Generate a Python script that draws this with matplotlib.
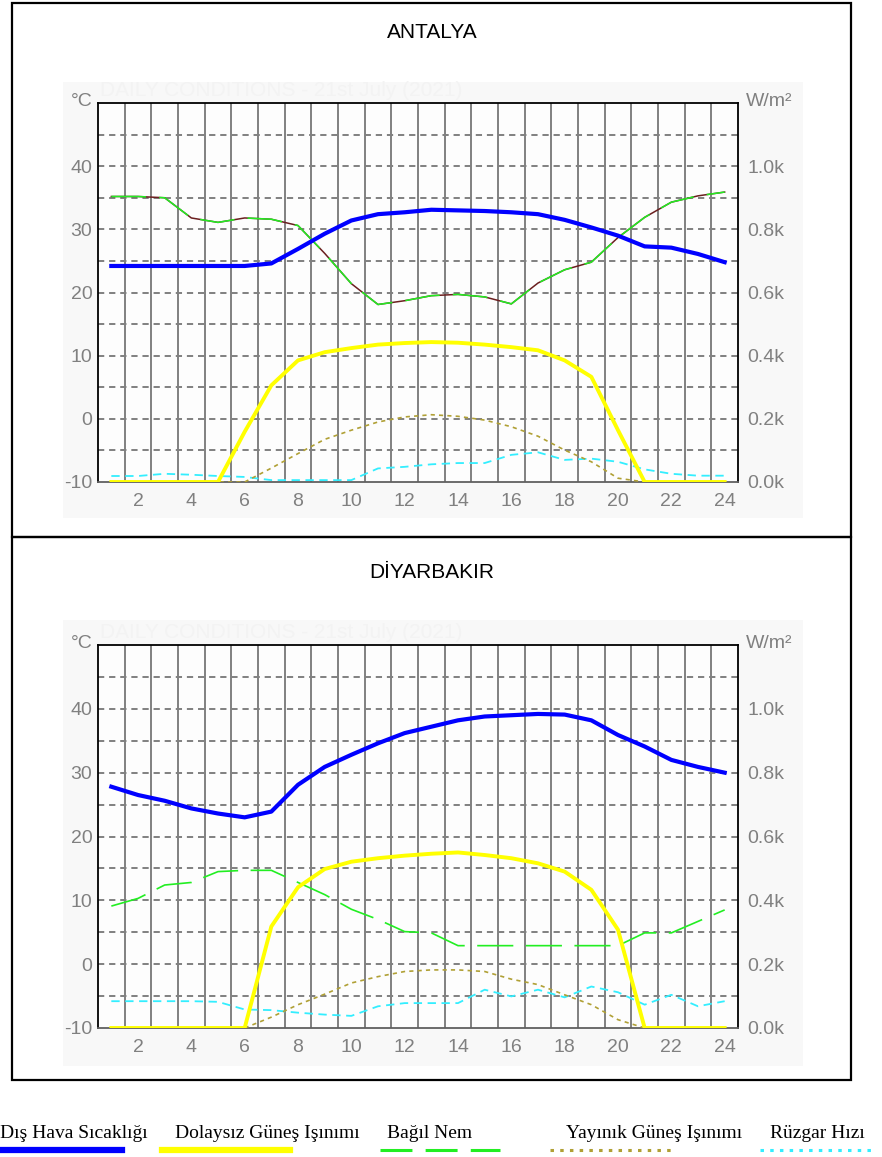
import numpy as np
import matplotlib.pyplot as plt
from matplotlib.patches import Rectangle
from matplotlib.lines import Line2D

plt.rcParams['lines.scale_dashes'] = False
plt.rcParams['axes.unicode_minus'] = False
plt.rcParams['font.family'] = ['Liberation Sans', 'DejaVu Sans']

# saat 1..24
hours = np.arange(1, 25)

# ANTALYA (sol eksen: °C ölçeği, sağ eksen: W/m²)
antalya_temp = [24.2, 24.2, 24.2, 24.2, 24.2, 24.2, 24.6, 26.9, 29.3, 31.4, 32.4, 32.7,
                33.1, 33.0, 32.9, 32.7, 32.4, 31.5, 30.3, 29.0, 27.3, 27.1, 26.1, 24.8]
antalya_rh = [35.2, 35.2, 35.0, 31.8, 31.1, 31.8, 31.6, 30.6, 26.2, 21.4, 18.1, 18.7,
              19.5, 19.7, 19.3, 18.2, 21.5, 23.6, 24.8, 28.7, 31.9, 34.3, 35.3, 35.9]
antalya_wind = [-9.05, -9.05, -8.7, -8.85, -9.05, -9.2, -9.7, -9.7, -9.7, -9.7, -7.85, -7.6,
                -7.2, -7.0, -7.0, -5.7, -5.3, -6.5, -6.3, -6.8, -8.0, -8.7, -9.0, -9.0]
antalya_direct = [0, 0, 0, 0, 0, 159, 306, 385, 411, 424, 435, 440,
                  443, 441, 435, 427, 417, 385, 333, 164, 0, 0, 0, 0]
antalya_diffuse = [0, 0, 0, 0, 0, 0, 44, 90, 135, 164, 190, 206,
                   213, 208, 196, 175, 145, 101, 64, 12, 0, 0, 0, 0]

# DİYARBAKIR
diyarbakir_temp = [27.8, 26.5, 25.6, 24.4, 23.6, 23.0, 23.9, 28.1, 30.9, 32.8, 34.6, 36.2,
                   37.2, 38.2, 38.8, 39.0, 39.2, 39.1, 38.2, 35.9, 34.1, 32.0, 30.9, 30.0]
diyarbakir_rh = [9.1, 10.3, 12.4, 12.8, 14.5, 14.7, 14.7, 12.8, 10.9, 8.6, 7.0, 5.1,
                 4.9, 2.9, 2.9, 2.9, 2.9, 2.9, 2.9, 2.9, 4.9, 4.9, 6.7, 8.5]
diyarbakir_wind = [-5.8, -5.8, -5.8, -5.8, -5.9, -7.1, -7.2, -7.6, -7.9, -8.1, -6.6, -6.1,
                   -6.1, -6.1, -4.0, -5.05, -4.0, -5.2, -3.5, -4.4, -6.35, -4.8, -6.6, -5.8]
diyarbakir_direct = [0, 0, 0, 0, 0, 0, 318, 441, 498, 521, 532, 540,
                     546, 550, 542, 532, 516, 490, 433, 308, 0, 0, 0, 0]
diyarbakir_diffuse = [0, 0, 0, 0, 0, 0, 34, 73, 106, 141, 161, 177,
                      182, 182, 177, 153, 136, 104, 73, 26, 0, 0, 0, 0]

temp_ticks = [-10, 0, 10, 20, 30, 40]
rad_ticks = [0, 200, 400, 600, 800, 1000]
rad_labels = ['0.0k', '0.2k', '0.4k', '0.6k', '0.8k', '1.0k']
hour_ticks = list(range(2, 25, 2))

legend_names = ['Dış Hava Sıcaklığı', 'Dolaysız Güneş Işınımı', 'Bağıl Nem',
                'Yayınık Güneş Işınımı', 'Rüzgar Hızı']

W, H = 882, 1157
fig = plt.figure(figsize=(W / 100, H / 100), dpi=100)


def fx(x):
    return x / W


def fy(y):
    return 1 - y / H


C_TEMP = '#0000ff'
C_DIRECT = '#ffff00'
C_RH = '#22ee22'
C_DIFF = '#b0a035'
C_WIND = '#33eeff'
GRID = '#808080'
LABEL = '#808080'


def draw_panel(box_top, box_bot, bg_top, bg_bot, plot_top, plot_bot, title, title_y,
               temp, rh, wind, direct, diffuse, antalya_style):
    fig.add_artist(Rectangle((fx(12), fy(box_bot)), fx(851) - fx(12), fy(box_top) - fy(box_bot),
                             transform=fig.transFigure, fill=False, edgecolor='black', lw=1.6))
    fig.add_artist(Rectangle((fx(63), fy(bg_bot)), fx(803) - fx(63), fy(bg_top) - fy(bg_bot),
                             transform=fig.transFigure, facecolor='#f8f8f8', edgecolor='none',
                             zorder=-5))
    fig.text(fx(432), fy(title_y), title, ha='center', va='center', fontsize=15, color='black')
    fig.text(fx(100), fy(plot_top - 12), 'DAILY CONDITIONS - 21st July (2021)', fontsize=15,
             color='#f3f3f3', ha='left', va='center')

    ax = fig.add_axes([fx(98), fy(plot_bot), fx(738) - fx(98), fy(plot_top) - fy(plot_bot)])
    ax.set_facecolor('#fdfdfd')
    ax.set_xlim(0.5, 24.5)
    ax.set_ylim(-10, 50)

    for x in np.arange(1.5, 24, 1):
        ax.axvline(x, color=GRID, lw=1.4, zorder=1)
    for y in np.arange(-5, 50, 5):
        ax.axhline(y, color=GRID, lw=1.4, ls=(0, (4.5, 3.5)), zorder=1)

    ax.set_xticks(hour_ticks)
    ax.set_yticks(temp_ticks)
    ax.tick_params(length=0, labelsize=14, colors=LABEL, pad=8)
    ax.tick_params(axis='y', pad=4)
    for s in ['left', 'top', 'right']:
        ax.spines[s].set_color('black')
        ax.spines[s].set_linewidth(1.3)
    ax.spines['bottom'].set_color('#606060')
    ax.spines['bottom'].set_linewidth(1.3)

    if antalya_style:
        ax.plot(hours, rh, color='#6b1f1f', lw=1.1, zorder=3)
        ax.plot(hours, rh, color=C_RH, lw=1.1, dashes=(25, 9.5), zorder=3)
    else:
        ax.plot(hours, rh, color=C_RH, lw=1.2, dashes=(26, 9), zorder=3)
    ax.plot(hours, wind, color=C_WIND, lw=1.3, dashes=(6, 4), zorder=3)
    ax.plot(hours, temp, color=C_TEMP, lw=3.0, zorder=4)

    ax2 = ax.twinx()
    ax2.set_ylim(0, 1200)
    ax2.set_yticks(rad_ticks)
    ax2.set_yticklabels(rad_labels)
    ax2.tick_params(length=0, labelsize=14, colors=LABEL, pad=7)
    for s in ax2.spines.values():
        s.set_visible(False)
    ax2.plot(hours, diffuse, color=C_DIFF, lw=1.2, dashes=(3, 3), zorder=3)
    ax2.plot(hours, direct, color=C_DIRECT, lw=2.8, zorder=4)

    fig.text(fx(82), fy(plot_top - 2), '°C', fontsize=14, color=LABEL, ha='center', va='center')
    fig.text(fx(746), fy(plot_top - 2), 'W/m²', fontsize=14, color=LABEL, ha='left', va='center')


draw_panel(3, 537, 82, 518, 103, 482, 'ANTALYA', 33,
           antalya_temp, antalya_rh, antalya_wind, antalya_direct, antalya_diffuse, True)
draw_panel(537, 1080, 620, 1066, 645, 1028, 'DİYARBAKIR', 573,
           diyarbakir_temp, diyarbakir_rh, diyarbakir_wind, diyarbakir_direct,
           diyarbakir_diffuse, False)

# alt açıklama
text_x = [0, 175, 387, 566, 770]
line_x = [(0, 122), (162, 290), (380, 500), (550, 675), (760, 875)]
line_styles = [dict(color=C_TEMP, lw=4.5), dict(color=C_DIRECT, lw=4.5),
               dict(color=C_RH, lw=2.2, dashes=(23, 9.5)),
               dict(color=C_DIFF, lw=2.2, dashes=(2.5, 4.5)),
               dict(color=C_WIND, lw=2.2, dashes=(2.5, 4.5))]
for name, tx, (x0, x1), st in zip(legend_names, text_x, line_x, line_styles):
    fig.text(fx(tx), fy(1133), name, fontsize=14, family='Liberation Serif',
             ha='left', va='center', color='black')
    fig.add_artist(Line2D([fx(x0), fx(x1)], [fy(1150), fy(1150)], transform=fig.transFigure, **st))

fig.savefig('out.png', dpi=100, facecolor='white')
